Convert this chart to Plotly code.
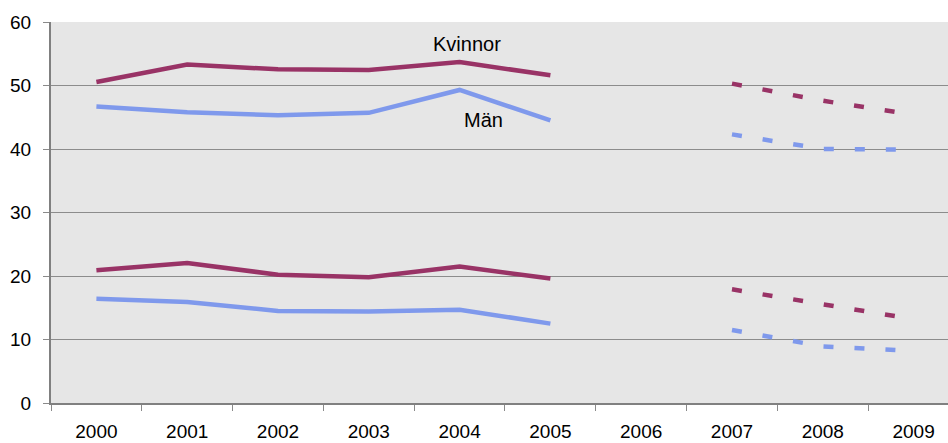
import plotly.graph_objects as go

years = ["2000", "2001", "2002", "2003", "2004", "2005", "2006", "2007", "2008", "2009"]
obs_years = ["2000", "2001", "2002", "2003", "2004", "2005"]
proj_years = ["2007", "2008", "2009"]

kvinnor_hi = [50.55, 53.3, 52.55, 52.45, 53.7, 51.6]
man_hi = [46.7, 45.8, 45.3, 45.7, 49.3, 44.5]
kvinnor_lo = [20.9, 22.05, 20.2, 19.8, 21.5, 19.6]
man_lo = [16.4, 15.9, 14.5, 14.4, 14.7, 12.5]

kvinnor_hi_proj = [50.3, 47.6, 45.4]
man_hi_proj = [42.3, 40.0, 39.9]
kvinnor_lo_proj = [17.9, 15.5, 13.2]
man_lo_proj = [11.5, 8.9, 8.2]

yticks = [0, 10, 20, 30, 40, 50, 60]

KV = "#993366"
MA = "#7f99ec"
LW = 4.5
DASH = "10px,21px"

fig = go.Figure()
for ys, c in [(kvinnor_hi, KV), (man_hi, MA), (kvinnor_lo, KV), (man_lo, MA)]:
    fig.add_trace(go.Scatter(x=obs_years, y=ys, mode="lines",
                             line=dict(color=c, width=LW), showlegend=False, hoverinfo="skip"))
for ys, c in [(kvinnor_hi_proj, KV), (man_hi_proj, MA), (kvinnor_lo_proj, KV), (man_lo_proj, MA)]:
    fig.add_trace(go.Scatter(x=proj_years, y=ys, mode="lines",
                             line=dict(color=c, width=LW, dash=DASH), showlegend=False, hoverinfo="skip"))

fig.add_annotation(x=4.08, y=56.6, xref="x", yref="y", text="Kvinnor", showarrow=False,
                   font=dict(size=20, color="black", family="Liberation Sans, Arial"))
fig.add_annotation(x=4.26, y=44.5, xref="x", yref="y", text="Män", showarrow=False,
                   font=dict(size=20, color="black", family="Liberation Sans, Arial"))

fig.update_layout(
    width=948, height=443,
    margin=dict(l=51, r=0, t=22, b=40, pad=0, autoexpand=False),
    paper_bgcolor="white", plot_bgcolor="#e6e6e6",
    font=dict(family="Liberation Sans, Arial", size=19, color="black"),
    showlegend=False,
)
fig.update_xaxes(
    type="category", categoryorder="array", categoryarray=years,
    range=[-0.5, 9.379], tickson="boundaries", ticks="outside", ticklen=6,
    tickcolor="#8a8a8a", tickwidth=1, showgrid=False, showline=True,
    linecolor="#808080", linewidth=2, ticklabelstandoff=10, zeroline=False,
    automargin=False,
)
fig.update_yaxes(
    range=[0, 60], tickvals=yticks, ticks="outside", ticklen=6, tickcolor="#8a8a8a",
    showgrid=True, gridcolor="#8c8c8c", gridwidth=1, showline=True,
    linecolor="#808080", linewidth=2, zeroline=False, ticklabelstandoff=8,
    automargin=False,
)

fig.write_html(
    "out.html",
    config={"displayModeBar": False, "staticPlot": True},
    post_script="document.body.style.margin='0';document.body.style.overflow='hidden';",
)
